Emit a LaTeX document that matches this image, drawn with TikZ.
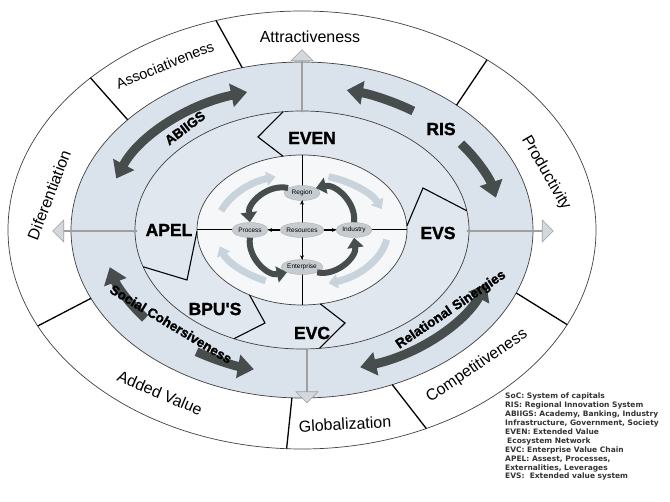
\documentclass[tikz,border=0pt]{standalone}
\usepackage{fontspec}
\setmainfont{Liberation Sans}
\newfontfamily\legendfont{DejaVu Sans}
\newfontfamily\heavyfont{Liberation Sans}[BoldFeatures={FakeBold=1.6}]
\usepackage{tikz}
\usetikzlibrary{arrows.meta,calc,shapes.geometric,shapes.arrows}

\definecolor{bandblue}{HTML}{DAE2EC}
\definecolor{innerblue}{HTML}{E1E7EF}
\definecolor{corewhite}{HTML}{F5F7F9}
\definecolor{darkarr}{HTML}{474D4D}
\definecolor{palearr}{HTML}{C8D3DC}
\definecolor{blockarr}{HTML}{D3D8DD}
\definecolor{nodegray}{HTML}{C6CBD0}

\begin{document}
\begin{tikzpicture}[x=1pt, y=-1pt, node distance=52pt]
  \tikzstyle{ring} = [draw=black!75, line width=0.7pt]
  \tikzstyle{divider} = [draw=black, line width=1.3pt]
  \tikzstyle{chevron} = [draw=black, line width=1.1pt, line join=miter]
  \tikzstyle{zone} = [font=\heavyfont\bfseries\fontsize{17.5}{18}\selectfont, inner sep=0pt]
  \tikzstyle{ringtext} = [font=\fontsize{16}{16}\selectfont, inner sep=0pt]
  \tikzstyle{bandtext} = [font=\heavyfont\bfseries\fontsize{13.5}{14}\selectfont, inner sep=0pt]
  \tikzstyle{blockarrow} = [single arrow, draw=gray!75, fill=blockarr, line width=0.6pt,
    minimum width=22pt, single arrow head extend=6pt, inner sep=0pt]
  \tikzstyle{sweep} = [draw=darkarr, line width=9pt, >={Triangle[width=23pt,length=16pt]}]
  \tikzstyle{drift} = [draw=palearr, line width=7pt, ->, >={Triangle[width=14pt,length=9pt]}]
  \tikzstyle{spin} = [draw=darkarr, line width=6pt, ->, >={Triangle[width=16pt,length=10pt]}]
  \tikzstyle{spot} = [ellipse, fill=nodegray, draw=gray!60, line width=0.4pt,
    minimum width=36pt, minimum height=15pt, inner sep=0pt, font=\fontsize{6.5}{7}\selectfont]

  \useasboundingbox (0,0) rectangle (670,502);
  \coordinate (C) at (302,230);

  % rings
  \path[ring, fill=white] (C) ellipse [x radius=294pt, y radius=219pt];
  \path[ring, fill=bandblue] (C) ellipse [x radius=231pt, y radius=168pt];
  \path[ring, fill=innerblue] (C) ellipse [x radius=167pt, y radius=119pt];
  \path[ring, fill=corewhite] (C) ellipse [x radius=105pt, y radius=75pt];

  % outer ring sectors
  \foreach \a/\b in {107/105, 51/48, -25.6/-22, -65/-67, -93/-92.5, 206/204, 136/139}
    \draw[divider] ($(C)+(\a:294pt and 219pt)$) -- ($(C)+(\b:231pt and 168pt)$);

  % chevrons between the inner rings
  \draw[chevron] ($(C)+(96.5:167pt and 119pt)$) -- (258,137) -- ($(C)+(100.4:105pt and 75pt)$);
  \draw[chevron] ($(C)+(3:105pt and 75pt)$) -- (423,188) -- ($(C)+(9.3:167pt and 119pt)$);
  \draw[chevron] ($(C)+(181:105pt and 75pt)$) -- (187,280) -- ($(C)+(198:167pt and 119pt)$);
  \draw[chevron] ($(C)+(240:105pt and 75pt)$) -- (265,323) -- ($(C)+(246:167pt and 119pt)$);
  \draw[chevron] ($(C)+(280:105pt and 75pt)$) -- (345,323) -- ($(C)+(276:167pt and 119pt)$);

  % block arrows out of the rings
  \node[blockarrow, minimum height=62pt, rotate=90] (up) at (302,81) {};
  \node[blockarrow, minimum height=84pt, rotate=180] (left) at (95,231) {};
  \node[blockarrow, minimum height=86pt] (right) at (510,231) {};
  \node[blockarrow, minimum height=53pt, rotate=-90] (down) at (307,376) {};

  % dark arrows in the band
  \draw[sweep, <->] ($(C)+(159:199pt and 143.5pt)$) arc[start angle=159, end angle=106, x radius=199pt, y radius=143.5pt];
  \draw[sweep, ->] ($(C)+(56:199pt and 143.5pt)$) arc[start angle=56, end angle=77, x radius=199pt, y radius=143.5pt];
  \draw[sweep, ->] ($(C)+(37:199pt and 143.5pt)$) arc[start angle=37, end angle=13, x radius=199pt, y radius=143.5pt];
  \draw[sweep, <->] ($(C)+(-73:199pt and 143.5pt)$) arc[start angle=-73, end angle=-22, x radius=199pt, y radius=143.5pt];
  \draw[sweep, ->] ($(C)+(218:199pt and 143.5pt)$) arc[start angle=218, end angle=195, x radius=199pt, y radius=143.5pt];
  \draw[sweep, ->] ($(C)+(238:199pt and 143.5pt)$) arc[start angle=238, end angle=256, x radius=199pt, y radius=143.5pt];

  % outer labels
  \node[ringtext] (attr) at (310,37) {Attractiveness};
  \node[ringtext, rotate=-60] (prod) at (546,173) {Productivity};
  \node[ringtext, rotate=34] (comp) at (477,366) {Competitiveness};
  \node[ringtext, rotate=3] (glob) at (345,424) {Globalization};
  \node[ringtext, rotate=-23] (addv) at (160,393) {Added Value};
  \node[ringtext, rotate=69] (dife) at (49,195) {Diferentiation};
  \node[ringtext, font=\fontsize{14.5}{15}\selectfont, rotate=22] (asso) at (165,65) {Associativeness};

  % band labels
  \node[bandtext, rotate=37] (abiigs) at (185,128) {ABIIGS};
  \node[bandtext, rotate=34] (rels) at (451,310) {Relational Sinergies};
  \node[bandtext, rotate=-31] (soco) at (171,324) {Social Cohersiveness};
  \node[zone] (ris) at (441,129) {RIS};

  % inner ring labels
  \node[zone] (even) at (312,138) {EVEN};
  \node[zone] (evs) at (438,233) {EVS};
  \node[zone] (apel) at (169,230) {APEL};
  \node[zone] (bpus) at (215,309) {BPU'S};
  \node[zone] (evc) at (312,333) {EVC};

  % core
  \draw[drift] ($(C)+(160:86pt and 56pt)$) arc[start angle=160, end angle=108, x radius=86pt, y radius=56pt];
  \draw[drift] ($(C)+(72:86pt and 56pt)$) arc[start angle=72, end angle=22, x radius=86pt, y radius=56pt];
  \draw[drift] ($(C)+(-10:86pt and 56pt)$) arc[start angle=-10, end angle=-72, x radius=86pt, y radius=56pt];
  \draw[drift] ($(C)+(245:86pt and 56pt)$) arc[start angle=245, end angle=197, x radius=86pt, y radius=56pt];

  \coordinate (cl) at ($(C)+(-105,0)$);
  \coordinate (cr) at ($(C)+(105,0)$);
  \coordinate (ct) at ($(C)+(0,-75)$);
  \coordinate (cb) at ($(C)+(0,75)$);
  \draw[line width=1pt] (cl) -- (cr);
  \draw[line width=1pt] (ct) -- (cb);

  % Define nodes
  \node[spot] (res) at (C) {Resources};
  \node[spot, left of=res] (proc) {Process};
  \node[spot, right of=res] (ind) {Industry};
  \node[spot, above of=res, node distance=37pt] (reg) {Region};
  \node[spot, below of=res, node distance=37pt] (ent) {Enterprise};

  \path
    (reg) edge [spin, bend right=55] (proc)
    (proc) edge [spin, bend right=55] (ent)
    (ent) edge [spin, bend right=55] (ind)
    (ind) edge [spin, bend right=55] (reg);

  \path [->, >={Stealth[length=4pt,width=4pt]}, line width=0.8pt]
    (res) edge (reg)
    (res) edge (ind)
    (res) edge (ent)
    (res) edge (proc);

  % legend
  \node[anchor=north west, align=left, inner sep=0pt, text=black!80,
    font=\legendfont\bfseries\fontsize{7.5}{8.9}\selectfont] (key) at (505,393)
    {SoC: System of capitals\\
     RIS: Regional Innovation System\\
     ABIIGS: Academy, Banking, Industry\\
     Infrastructure, Government, Society\\
     EVEN: Extended Value\\
     \hspace{2pt}Ecosystem Network\\
     EVC: Enterprise Value Chain\\
     APEL: Assest, Processes,\\
     Externalities, Leverages\\
     EVS:\ \ Extended value system};
\end{tikzpicture}
\end{document}
